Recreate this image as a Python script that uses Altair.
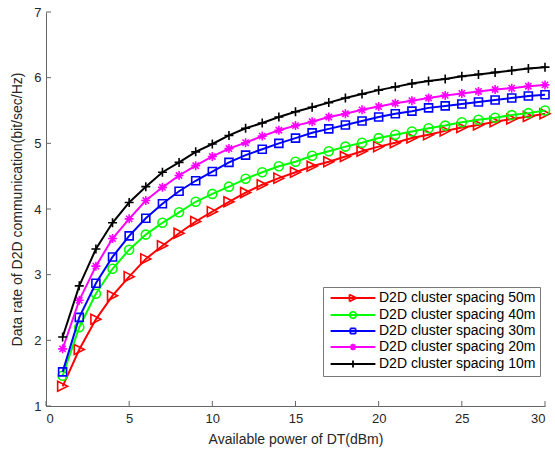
import altair as alt
import pandas as pd

# ---------------- data ----------------
power_dbm = list(range(1, 31))
series_names = [
    "D2D cluster spacing 50m",
    "D2D cluster spacing 40m",
    "D2D cluster spacing 30m",
    "D2D cluster spacing 20m",
    "D2D cluster spacing 10m",
]
rate_50m = [1.30, 1.86, 2.32, 2.68, 2.97, 3.24, 3.44, 3.63, 3.81, 3.96, 4.11, 4.25, 4.37, 4.47, 4.56,
            4.65, 4.72, 4.80, 4.88, 4.95, 5.01, 5.08, 5.13, 5.19, 5.24, 5.28, 5.33, 5.37, 5.41, 5.45]
rate_40m = [1.46, 2.20, 2.71, 3.09, 3.38, 3.61, 3.79, 3.95, 4.11, 4.23, 4.34, 4.46, 4.56, 4.65, 4.72,
            4.81, 4.88, 4.95, 5.01, 5.08, 5.13, 5.18, 5.23, 5.27, 5.32, 5.36, 5.39, 5.43, 5.46, 5.50]
rate_30m = [1.52, 2.35, 2.87, 3.27, 3.59, 3.86, 4.08, 4.27, 4.43, 4.57, 4.71, 4.82, 4.91, 5.00, 5.08,
            5.16, 5.22, 5.28, 5.34, 5.40, 5.45, 5.49, 5.54, 5.57, 5.60, 5.63, 5.66, 5.69, 5.72, 5.74]
rate_20m = [1.87, 2.61, 3.13, 3.55, 3.85, 4.13, 4.33, 4.51, 4.66, 4.80, 4.92, 5.01, 5.11, 5.20, 5.27,
            5.33, 5.40, 5.45, 5.51, 5.56, 5.61, 5.65, 5.69, 5.73, 5.76, 5.79, 5.82, 5.84, 5.87, 5.89]
rate_10m = [2.05, 2.83, 3.39, 3.79, 4.10, 4.34, 4.56, 4.71, 4.87, 4.99, 5.12, 5.23, 5.31, 5.40, 5.48,
            5.55, 5.62, 5.69, 5.75, 5.81, 5.86, 5.91, 5.95, 5.98, 6.02, 6.05, 6.08, 6.11, 6.14, 6.16]
series_rates = [rate_50m, rate_40m, rate_30m, rate_20m, rate_10m]
x_ticks = [0, 5, 10, 15, 20, 25, 30]
y_ticks = [1, 2, 3, 4, 5, 6, 7]

# ---------------- styles ----------------
colors = ["#ff0000", "#00ff00", "#0000ff", "#ff00ff", "#000000"]
marker_paths = [
    "M-1,-1L1,0L-1,1Z",
    "circle",
    "square",
    "M0,-1L0,1M-1,0L1,0M-0.7,-0.7L0.7,0.7M-0.7,0.7L0.7,-0.7",
    "M0,-1L0,1M-1,0L1,0",
]
marker_sizes = [100, 81, 64, 81, 81]


def outline(pts):
    # draw a closed outline as separate segments so it can never be filled
    segs = []
    for a, b in zip(pts, pts[1:] + pts[:1]):
        segs.append(f"M{a[0]},{a[1]}L{b[0]},{b[1]}")
    return "".join(segs)


LINE = "M-6.4,0L6.4,0"
circle_pts = [(0.95, 0), (0.82, 0.48), (0.48, 0.82), (0, 0.95), (-0.48, 0.82), (-0.82, 0.48),
              (-0.95, 0), (-0.82, -0.48), (-0.48, -0.82), (0, -0.95), (0.48, -0.82), (0.82, -0.48)]
legend_paths = [
    LINE + outline([(-1, -1), (1, 0), (-1, 1)]),
    LINE + outline(circle_pts),
    LINE + outline([(-0.75, -0.75), (0.75, -0.75), (0.75, 0.75), (-0.75, 0.75)]),
    LINE + "M0,-0.9L0,0.9M-0.9,0L0.9,0M-0.65,-0.65L0.65,0.65M-0.65,0.65L0.65,-0.65",
    LINE + "M0,-1L0,1",
]

FONT = "Liberation Sans"
TXT = "#262626"
AX = "#666666"
W, H = 499, 394

rows = []
for name, vals in zip(series_names, series_rates):
    for xv, yv in zip(power_dbm, vals):
        rows.append({"power": xv, "rate": yv, "series": name})
df = pd.DataFrame(rows)

xs = alt.Scale(domain=[0, 30], nice=False, zero=False)
ys = alt.Scale(domain=[1, 7], nice=False, zero=False)
cs = alt.Scale(domain=series_names, range=colors)

x_axis_main = alt.Axis(values=x_ticks, format="d", ticks=False, grid=False, domainColor=AX,
                       labelFont=FONT, labelFontSize=13, labelColor=TXT, labelPadding=6,
                       title="Available power of DT(dBm)", titleFont=FONT, titleFontSize=14,
                       titleFontWeight="normal", titleColor=TXT, titlePadding=7)
y_axis_main = alt.Axis(values=y_ticks, format="d", ticks=False, grid=False, domainColor=AX,
                       labelFont=FONT, labelFontSize=13, labelColor=TXT, labelPadding=5,
                       title="Data rate of D2D communication(bit/sec/Hz)", titleFont=FONT,
                       titleFontSize=14, titleFontWeight="normal", titleColor=TXT, titlePadding=9)

X = alt.X("power:Q", scale=xs)
Y = alt.Y("rate:Q", scale=ys)

layers = []

# inward tick marks, placed through the scales
xt = pd.DataFrame({"power": x_ticks})
yt = pd.DataFrame({"rate": y_ticks})
layers.append(alt.Chart(xt).mark_rule(color=AX, strokeWidth=1).encode(
    x=alt.X("power:Q", scale=xs, axis=x_axis_main), y=alt.value(H), y2=alt.value(H - 5)))
layers.append(alt.Chart(yt).mark_rule(color=AX, strokeWidth=1).encode(
    y=alt.Y("rate:Q", scale=ys, axis=y_axis_main), x=alt.value(0), x2=alt.value(5)))

legend_props = dict(orient="none", legendX=277, legendY=275, title=None, labelFont=FONT,
                    labelFontSize=14, labelColor="#000000", symbolSize=49, symbolOffset=19,
                    labelOffset=19, rowPadding=2, padding=4, strokeColor="#777777",
                    fillColor="#ffffff", symbolStrokeWidth=1.8, symbolOpacity=1,
                    symbolFillColor="transparent")

legend_layer = alt.Chart(df).transform_filter(alt.datum.power > 100).mark_point(filled=False).encode(
    x=X, y=Y,
    color=alt.Color("series:N", scale=cs, legend=alt.Legend(**legend_props)),
    shape=alt.Shape("series:N", scale=alt.Scale(domain=series_names, range=legend_paths),
                    legend=alt.Legend(**legend_props)),
)
layers.append(legend_layer)

for i, name in enumerate(series_names):
    base = alt.Chart(df).transform_filter(alt.datum.series == name)
    line = base.mark_line(strokeWidth=2).encode(
        x=X, y=Y, color=alt.Color("series:N", scale=cs))
    pts = base.mark_point(shape=marker_paths[i], size=marker_sizes[i], filled=False,
                          strokeWidth=1.6, opacity=1).encode(
        x=X, y=Y, color=alt.Color("series:N", scale=cs))
    layers += [line, pts]

chart = alt.layer(*layers).properties(
    width=W, height=H,
    autosize=alt.AutoSizeParams(type="none"),
    padding={"left": 46, "top": 12, "right": 10, "bottom": 50},
    background="#ffffff",
).configure_view(stroke=None)

chart.save("out.html", embed_options={"renderer": "svg", "actions": False})
